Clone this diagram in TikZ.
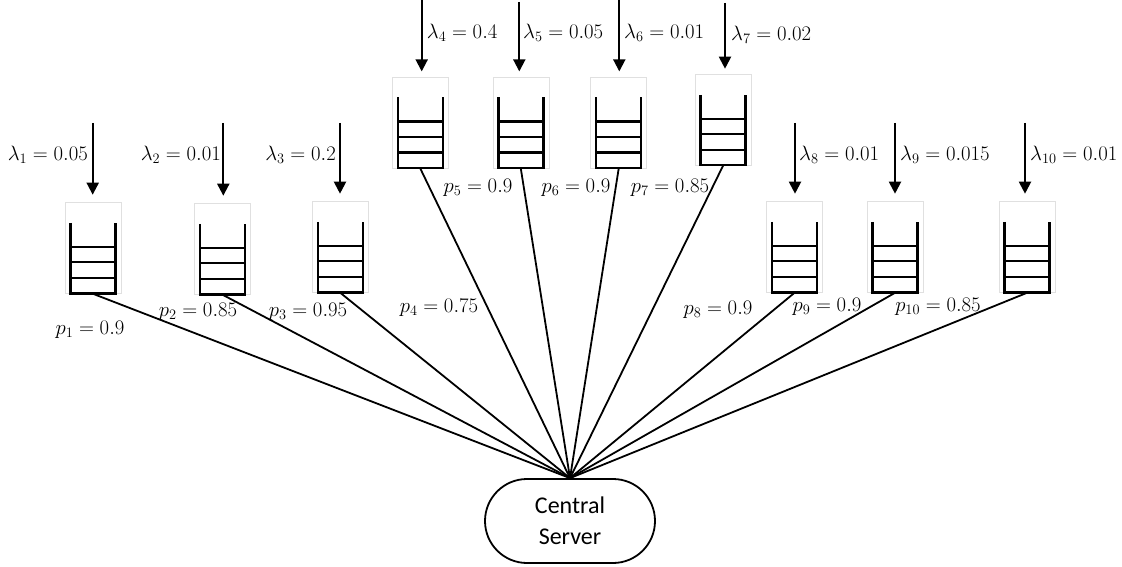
\documentclass[tikz,border=0pt]{standalone}
\usepackage{fontspec}
\newfontfamily\carl{Carlito}
\usetikzlibrary{arrows.meta,calc}
\begin{document}
\begin{tikzpicture}[x=1pt,y=-1pt,
  qbox/.style={draw=black!12,line width=0.6pt,minimum width=56pt,minimum height=91pt,inner sep=0pt},
  stackline/.style={line width=2.4pt,line cap=butt},
  arr/.style={line width=2pt,-{Triangle[length=12pt,width=12pt]}},
  conn/.style={line width=1.8pt},
  lab/.style={inner sep=0pt,font=\fontsize{20.74}{24}\selectfont},
  server/.style={draw,line width=1.8pt,rounded corners=42pt,minimum width=170pt,minimum height=84pt,align=center,font=\carl\fontsize{24}{31}\selectfont,inner sep=0pt}]
\useasboundingbox (0,0) rectangle (1122,567);
\newcommand{\qstack}[1]{%
  \draw[stackline] ($(#1.south)+(-22.5,-71)$) |- ($(#1.south)+(22.5,-0.5)$) -- ++(0,-70.5);
  \foreach \h in {15.5,31,46.5} \draw[line width=2.2pt] ($(#1.south)+(-22.5,-0.5-\h)$) -- ++(45,0);}
% queues
\node[qbox] (q1) at (93,248) {};
\node[qbox] (q2) at (222.7,249) {};
\node[qbox] (q3) at (340.3,247) {};
\node[qbox] (q4) at (420.3,122.7) {};
\node[qbox] (q5) at (520.8,122.7) {};
\node[qbox] (q6) at (618.7,122.7) {};
\node[qbox] (q7) at (723,120) {};
\node[qbox] (q8) at (794.5,247) {};
\node[qbox] (q9) at (895,247) {};
\node[qbox] (q10) at (1027,247) {};
\foreach \q in {q1,q2,q3,q4,q5,q6,q7,q8,q9,q10} {\qstack{\q}}
% server
\node[server] (s) at (570,521) {Central\\Server};
% arrival arrows
\coordinate (a1) at (92.7,123);
\coordinate (a2) at (223.3,123);
\coordinate (a3) at (340,123);
\coordinate (a4) at (421.7,0);
\coordinate (a5) at (519.3,2);
\coordinate (a6) at (619.3,0);
\coordinate (a7) at (725,3);
\coordinate (a8) at (795,123);
\coordinate (a9) at (895,123);
\coordinate (a10) at (1025,123);
\foreach \i in {1,2,3,8,9,10} {\draw[arr,shorten >=7.5pt] (a\i) -- (a\i |- q\i.north);}
\foreach \i in {4,5,6,7} {\draw[arr,shorten >=5.5pt] (a\i) -- (a\i |- q\i.north);}
% lambda labels
\node[lab,anchor=east] (l1) at (88,155) {$\lambda_1 = 0.05$};
\node[lab,anchor=east] (l2) at (221,155) {$\lambda_2 = 0.01$};
\node[lab,anchor=east] (l3) at (336,155) {$\lambda_3 = 0.2$};
\node[lab,anchor=west] (l4) at (426.7,33) {$\lambda_4 = 0.4$};
\node[lab,anchor=west] (l5) at (523,33) {$\lambda_5 = 0.05$};
\node[lab,anchor=west] (l6) at (624,33) {$\lambda_6 = 0.01$};
\node[lab,anchor=west] (l7) at (731,35) {$\lambda_7 = 0.02$};
\node[lab,anchor=west] (l8) at (799,155) {$\lambda_8 = 0.01$};
\node[lab,anchor=west] (l9) at (900,155) {$\lambda_9 = 0.015$};
\node[lab,anchor=west] (l10) at (1030,155) {$\lambda_{10} = 0.01$};
% connectors
\foreach \i in {1,...,10} {\draw[conn] (q\i.south) -- (s.north);}
% p labels
\node[lab] (p1) at (90,330) {$p_1 = 0.9$};
\node[lab] (p2) at (198,311.7) {$p_2 = 0.85$};
\node[lab] (p3) at (308,311.7) {$p_3 = 0.95$};
\node[lab] (p4) at (439,308) {$p_4 = 0.75$};
\node[lab] (p5) at (478,188) {$p_5 = 0.9$};
\node[lab] (p6) at (576,188) {$p_6 = 0.9$};
\node[lab] (p7) at (670,188) {$p_7 = 0.85$};
\node[lab] (p8) at (718,310) {$p_8 = 0.9$};
\node[lab] (p9) at (827,307) {$p_9 = 0.9$};
\node[lab] (p10) at (938,307) {$p_{10} = 0.85$};
\end{tikzpicture}
\end{document}
